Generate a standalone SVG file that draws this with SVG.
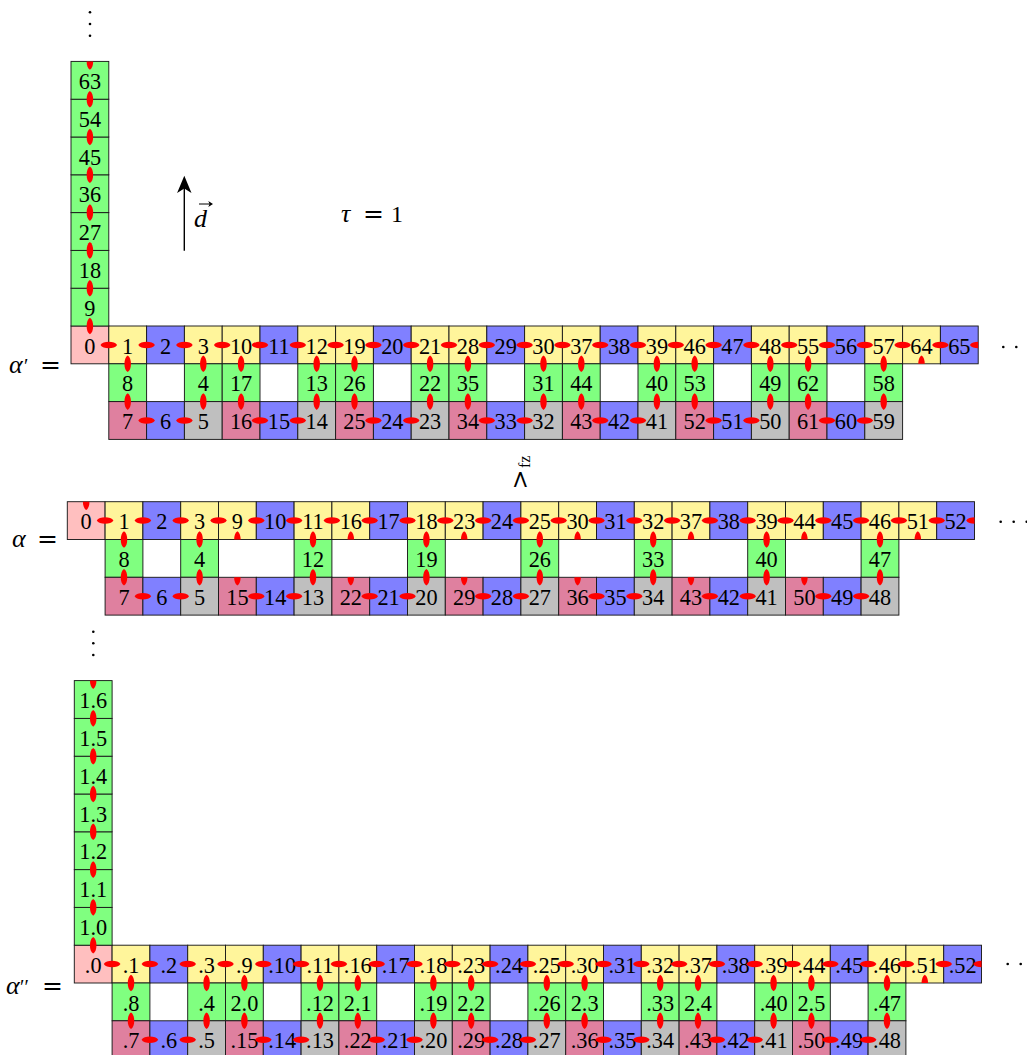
<svg xmlns="http://www.w3.org/2000/svg" width="1027" height="1055" viewBox="0 0 1027 1055" font-family="'Liberation Serif', 'Times New Roman', serif">
<style>
rect.c{width:20px;height:20px;stroke:#1a1a1a;stroke-width:0.5}
.pk{fill:#ffbfbf}.ye{fill:#fff59b}.bl{fill:#8080ff}.gr{fill:#80ff80}.mv{fill:#df809f}.gy{fill:#bfbfbf}
.n text{font-size:11.8px;text-anchor:middle;fill:#000}
.k use{fill:#ff0000}
.lbl{font-size:26px;fill:#000}
.eq{font-family:'DejaVu Serif',serif;font-size:25px}
.gt{font-family:'DejaVu Serif',serif;font-size:24px;fill:#000}
.sub{font-size:16px;fill:#000}
</style>
<defs>
<path id="lh" d="M-4.4,0 C-3.2,-2.3 3.2,-2.3 4.4,0 C3.2,2.3 -3.2,2.3 -4.4,0Z"/>
<path id="lv" d="M0,-4.4 C-2.3,-3.2 -2.3,3.2 0,4.4 C2.3,3.2 2.3,-3.2 0,-4.4Z"/>
<path id="hu" d="M-1.725,0 C-1.725,-1.9 -1.15,-3.8 0,-4.4 C1.15,-3.8 1.725,-1.9 1.725,0Z"/>
<path id="hd" d="M-1.725,0 C-1.725,1.9 -1.15,3.8 0,4.4 C1.15,3.8 1.725,1.9 1.725,0Z"/>
<path id="hl" d="M0,-1.725 C-1.9,-1.725 -3.8,-1.15 -4.4,0 C-3.8,1.15 -1.9,1.725 0,1.725Z"/>
</defs>

<g id="dots" fill="#000">
<circle cx="90" cy="12.3" r="1.3"/><circle cx="90" cy="24" r="1.3"/><circle cx="90" cy="35.7" r="1.3"/>
<circle cx="93.3" cy="631.7" r="1.3"/><circle cx="93.3" cy="643.3" r="1.3"/><circle cx="93.3" cy="655" r="1.3"/>
<circle cx="1003.3" cy="347" r="1.3"/><circle cx="1016.3" cy="347" r="1.3"/><circle cx="1029" cy="347" r="1.3"/>
<circle cx="1000.7" cy="521.7" r="1.3"/><circle cx="1013.7" cy="521.7" r="1.3"/><circle cx="1026.7" cy="521.7" r="1.3"/>
<circle cx="1007.7" cy="964" r="1.3"/><circle cx="1020.7" cy="964" r="1.3"/>
</g>
<g id="direction">
<line x1="184.3" y1="250.7" x2="184.3" y2="186" stroke="#000" stroke-width="1.4"/>
<path d="M184.3,175.7 L191.5,193 L184.3,188.5 L177.1,193Z" fill="#000"/>
<text class="lbl" x="194" y="226.5" font-style="italic">d</text>
<path d="M199,204 H210" stroke="#000" stroke-width="1"/>
<path d="M213,204 L208.3,201 L209.6,204 L208.3,207Z" fill="#000"/>
</g>
<text class="lbl" y="222"><tspan x="341" font-style="italic">τ</tspan><tspan class="eq" x="363">=</tspan><tspan x="391" font-size="24">1</tspan></text>
<text class="lbl" y="373"><tspan x="9" font-style="italic">α</tspan><tspan x="24" font-size="20">′</tspan><tspan class="eq" x="40">=</tspan></text>
<text class="lbl" y="547"><tspan x="12" font-style="italic">α</tspan><tspan class="eq" x="37">=</tspan></text>
<text class="lbl" y="994"><tspan x="6" font-style="italic">α</tspan><tspan x="20" font-size="20">′′</tspan><tspan class="eq" x="42">=</tspan></text>
<g id="order-relation">
<text class="gt" transform="translate(528,489.5) rotate(-90)">&gt;</text>
<text class="sub" transform="translate(530,468) rotate(-90)">fz</text>
</g>

<g transform="translate(71,326) scale(1.89)">
<g id="A-nodes" class="n">
<g id="A0" transform="translate(0,0)"><rect class="c pk"/><text x="10" y="14.6">0</text></g>
<g id="A1" transform="translate(20,0)"><rect class="c ye"/><text x="10" y="14.6">1</text></g>
<g id="A2" transform="translate(40,0)"><rect class="c bl"/><text x="10" y="14.6">2</text></g>
<g id="A3" transform="translate(60,0)"><rect class="c ye"/><text x="10" y="14.6">3</text></g>
<g id="A10" transform="translate(80,0)"><rect class="c ye"/><text x="10" y="14.6">10</text></g>
<g id="A11" transform="translate(100,0)"><rect class="c bl"/><text x="10" y="14.6">11</text></g>
<g id="A12" transform="translate(120,0)"><rect class="c ye"/><text x="10" y="14.6">12</text></g>
<g id="A19" transform="translate(140,0)"><rect class="c ye"/><text x="10" y="14.6">19</text></g>
<g id="A20" transform="translate(160,0)"><rect class="c bl"/><text x="10" y="14.6">20</text></g>
<g id="A21" transform="translate(180,0)"><rect class="c ye"/><text x="10" y="14.6">21</text></g>
<g id="A28" transform="translate(200,0)"><rect class="c ye"/><text x="10" y="14.6">28</text></g>
<g id="A29" transform="translate(220,0)"><rect class="c bl"/><text x="10" y="14.6">29</text></g>
<g id="A30" transform="translate(240,0)"><rect class="c ye"/><text x="10" y="14.6">30</text></g>
<g id="A37" transform="translate(260,0)"><rect class="c ye"/><text x="10" y="14.6">37</text></g>
<g id="A38" transform="translate(280,0)"><rect class="c bl"/><text x="10" y="14.6">38</text></g>
<g id="A39" transform="translate(300,0)"><rect class="c ye"/><text x="10" y="14.6">39</text></g>
<g id="A46" transform="translate(320,0)"><rect class="c ye"/><text x="10" y="14.6">46</text></g>
<g id="A47" transform="translate(340,0)"><rect class="c bl"/><text x="10" y="14.6">47</text></g>
<g id="A48" transform="translate(360,0)"><rect class="c ye"/><text x="10" y="14.6">48</text></g>
<g id="A55" transform="translate(380,0)"><rect class="c ye"/><text x="10" y="14.6">55</text></g>
<g id="A56" transform="translate(400,0)"><rect class="c bl"/><text x="10" y="14.6">56</text></g>
<g id="A57" transform="translate(420,0)"><rect class="c ye"/><text x="10" y="14.6">57</text></g>
<g id="A64" transform="translate(440,0)"><rect class="c ye"/><text x="10" y="14.6">64</text></g>
<g id="A65" transform="translate(460,0)"><rect class="c bl"/><text x="10" y="14.6">65</text></g>
<g id="A9" transform="translate(0,-20)"><rect class="c gr"/><text x="10" y="14.6">9</text></g>
<g id="A18" transform="translate(0,-40)"><rect class="c gr"/><text x="10" y="14.6">18</text></g>
<g id="A27" transform="translate(0,-60)"><rect class="c gr"/><text x="10" y="14.6">27</text></g>
<g id="A36" transform="translate(0,-80)"><rect class="c gr"/><text x="10" y="14.6">36</text></g>
<g id="A45" transform="translate(0,-100)"><rect class="c gr"/><text x="10" y="14.6">45</text></g>
<g id="A54" transform="translate(0,-120)"><rect class="c gr"/><text x="10" y="14.6">54</text></g>
<g id="A63" transform="translate(0,-140)"><rect class="c gr"/><text x="10" y="14.6">63</text></g>
<g id="A8" transform="translate(20,20)"><rect class="c gr"/><text x="10" y="14.6">8</text></g>
<g id="A4" transform="translate(60,20)"><rect class="c gr"/><text x="10" y="14.6">4</text></g>
<g id="A17" transform="translate(80,20)"><rect class="c gr"/><text x="10" y="14.6">17</text></g>
<g id="A13" transform="translate(120,20)"><rect class="c gr"/><text x="10" y="14.6">13</text></g>
<g id="A26" transform="translate(140,20)"><rect class="c gr"/><text x="10" y="14.6">26</text></g>
<g id="A22" transform="translate(180,20)"><rect class="c gr"/><text x="10" y="14.6">22</text></g>
<g id="A35" transform="translate(200,20)"><rect class="c gr"/><text x="10" y="14.6">35</text></g>
<g id="A31" transform="translate(240,20)"><rect class="c gr"/><text x="10" y="14.6">31</text></g>
<g id="A44" transform="translate(260,20)"><rect class="c gr"/><text x="10" y="14.6">44</text></g>
<g id="A40" transform="translate(300,20)"><rect class="c gr"/><text x="10" y="14.6">40</text></g>
<g id="A53" transform="translate(320,20)"><rect class="c gr"/><text x="10" y="14.6">53</text></g>
<g id="A49" transform="translate(360,20)"><rect class="c gr"/><text x="10" y="14.6">49</text></g>
<g id="A62" transform="translate(380,20)"><rect class="c gr"/><text x="10" y="14.6">62</text></g>
<g id="A58" transform="translate(420,20)"><rect class="c gr"/><text x="10" y="14.6">58</text></g>
<g id="A7" transform="translate(20,40)"><rect class="c mv"/><text x="10" y="14.6">7</text></g>
<g id="A6" transform="translate(40,40)"><rect class="c bl"/><text x="10" y="14.6">6</text></g>
<g id="A5" transform="translate(60,40)"><rect class="c gy"/><text x="10" y="14.6">5</text></g>
<g id="A16" transform="translate(80,40)"><rect class="c mv"/><text x="10" y="14.6">16</text></g>
<g id="A15" transform="translate(100,40)"><rect class="c bl"/><text x="10" y="14.6">15</text></g>
<g id="A14" transform="translate(120,40)"><rect class="c gy"/><text x="10" y="14.6">14</text></g>
<g id="A25" transform="translate(140,40)"><rect class="c mv"/><text x="10" y="14.6">25</text></g>
<g id="A24" transform="translate(160,40)"><rect class="c bl"/><text x="10" y="14.6">24</text></g>
<g id="A23" transform="translate(180,40)"><rect class="c gy"/><text x="10" y="14.6">23</text></g>
<g id="A34" transform="translate(200,40)"><rect class="c mv"/><text x="10" y="14.6">34</text></g>
<g id="A33" transform="translate(220,40)"><rect class="c bl"/><text x="10" y="14.6">33</text></g>
<g id="A32" transform="translate(240,40)"><rect class="c gy"/><text x="10" y="14.6">32</text></g>
<g id="A43" transform="translate(260,40)"><rect class="c mv"/><text x="10" y="14.6">43</text></g>
<g id="A42" transform="translate(280,40)"><rect class="c bl"/><text x="10" y="14.6">42</text></g>
<g id="A41" transform="translate(300,40)"><rect class="c gy"/><text x="10" y="14.6">41</text></g>
<g id="A52" transform="translate(320,40)"><rect class="c mv"/><text x="10" y="14.6">52</text></g>
<g id="A51" transform="translate(340,40)"><rect class="c bl"/><text x="10" y="14.6">51</text></g>
<g id="A50" transform="translate(360,40)"><rect class="c gy"/><text x="10" y="14.6">50</text></g>
<g id="A61" transform="translate(380,40)"><rect class="c mv"/><text x="10" y="14.6">61</text></g>
<g id="A60" transform="translate(400,40)"><rect class="c bl"/><text x="10" y="14.6">60</text></g>
<g id="A59" transform="translate(420,40)"><rect class="c gy"/><text x="10" y="14.6">59</text></g>
</g>
<g id="A-connectors" class="k">
<use href="#lh" x="20" y="10"/><use href="#lh" x="40" y="10"/><use href="#lh" x="60" y="10"/><use href="#lh" x="80" y="10"/><use href="#lh" x="100" y="10"/><use href="#lh" x="120" y="10"/><use href="#lh" x="140" y="10"/><use href="#lh" x="160" y="10"/><use href="#lh" x="180" y="10"/><use href="#lh" x="200" y="10"/><use href="#lh" x="220" y="10"/><use href="#lh" x="240" y="10"/><use href="#lh" x="260" y="10"/><use href="#lh" x="280" y="10"/><use href="#lh" x="300" y="10"/><use href="#lh" x="320" y="10"/><use href="#lh" x="340" y="10"/><use href="#lh" x="360" y="10"/><use href="#lh" x="380" y="10"/><use href="#lh" x="400" y="10"/><use href="#lh" x="420" y="10"/><use href="#lh" x="440" y="10"/><use href="#lh" x="460" y="10"/>
<use href="#hl" x="480" y="10"/>
<use href="#lv" x="10" y="0"/><use href="#lv" x="10" y="-20"/><use href="#lv" x="10" y="-40"/><use href="#lv" x="10" y="-60"/><use href="#lv" x="10" y="-80"/><use href="#lv" x="10" y="-100"/><use href="#lv" x="10" y="-120"/><use href="#hd" x="10" y="-140"/>
<use href="#lv" x="30" y="20"/><use href="#lv" x="30" y="40"/><use href="#lv" x="70" y="20"/><use href="#lv" x="70" y="40"/><use href="#lv" x="90" y="20"/><use href="#lv" x="90" y="40"/><use href="#lv" x="130" y="20"/><use href="#lv" x="130" y="40"/><use href="#lv" x="150" y="20"/><use href="#lv" x="150" y="40"/><use href="#lv" x="190" y="20"/><use href="#lv" x="190" y="40"/><use href="#lv" x="210" y="20"/><use href="#lv" x="210" y="40"/><use href="#lv" x="250" y="20"/><use href="#lv" x="250" y="40"/><use href="#lv" x="270" y="20"/><use href="#lv" x="270" y="40"/><use href="#lv" x="310" y="20"/><use href="#lv" x="310" y="40"/><use href="#lv" x="330" y="20"/><use href="#lv" x="330" y="40"/><use href="#lv" x="370" y="20"/><use href="#lv" x="370" y="40"/><use href="#lv" x="390" y="20"/><use href="#lv" x="390" y="40"/><use href="#lv" x="430" y="20"/><use href="#lv" x="430" y="40"/>
<use href="#hu" x="450" y="20"/>
<use href="#lh" x="40" y="50"/><use href="#lh" x="60" y="50"/><use href="#lh" x="100" y="50"/><use href="#lh" x="120" y="50"/><use href="#lh" x="160" y="50"/><use href="#lh" x="180" y="50"/><use href="#lh" x="220" y="50"/><use href="#lh" x="240" y="50"/><use href="#lh" x="280" y="50"/><use href="#lh" x="300" y="50"/><use href="#lh" x="340" y="50"/><use href="#lh" x="360" y="50"/><use href="#lh" x="400" y="50"/><use href="#lh" x="420" y="50"/>
</g>
</g>

<g transform="translate(67.3,501.7) scale(1.89)">
<g id="B-nodes" class="n">
<g id="B0" transform="translate(0,0)"><rect class="c pk"/><text x="10" y="14.6">0</text></g>
<g id="B1" transform="translate(20,0)"><rect class="c ye"/><text x="10" y="14.6">1</text></g>
<g id="B2" transform="translate(40,0)"><rect class="c bl"/><text x="10" y="14.6">2</text></g>
<g id="B3" transform="translate(60,0)"><rect class="c ye"/><text x="10" y="14.6">3</text></g>
<g id="B9" transform="translate(80,0)"><rect class="c ye"/><text x="10" y="14.6">9</text></g>
<g id="B10" transform="translate(100,0)"><rect class="c bl"/><text x="10" y="14.6">10</text></g>
<g id="B11" transform="translate(120,0)"><rect class="c ye"/><text x="10" y="14.6">11</text></g>
<g id="B16" transform="translate(140,0)"><rect class="c ye"/><text x="10" y="14.6">16</text></g>
<g id="B17" transform="translate(160,0)"><rect class="c bl"/><text x="10" y="14.6">17</text></g>
<g id="B18" transform="translate(180,0)"><rect class="c ye"/><text x="10" y="14.6">18</text></g>
<g id="B23" transform="translate(200,0)"><rect class="c ye"/><text x="10" y="14.6">23</text></g>
<g id="B24" transform="translate(220,0)"><rect class="c bl"/><text x="10" y="14.6">24</text></g>
<g id="B25" transform="translate(240,0)"><rect class="c ye"/><text x="10" y="14.6">25</text></g>
<g id="B30" transform="translate(260,0)"><rect class="c ye"/><text x="10" y="14.6">30</text></g>
<g id="B31" transform="translate(280,0)"><rect class="c bl"/><text x="10" y="14.6">31</text></g>
<g id="B32" transform="translate(300,0)"><rect class="c ye"/><text x="10" y="14.6">32</text></g>
<g id="B37" transform="translate(320,0)"><rect class="c ye"/><text x="10" y="14.6">37</text></g>
<g id="B38" transform="translate(340,0)"><rect class="c bl"/><text x="10" y="14.6">38</text></g>
<g id="B39" transform="translate(360,0)"><rect class="c ye"/><text x="10" y="14.6">39</text></g>
<g id="B44" transform="translate(380,0)"><rect class="c ye"/><text x="10" y="14.6">44</text></g>
<g id="B45" transform="translate(400,0)"><rect class="c bl"/><text x="10" y="14.6">45</text></g>
<g id="B46" transform="translate(420,0)"><rect class="c ye"/><text x="10" y="14.6">46</text></g>
<g id="B51" transform="translate(440,0)"><rect class="c ye"/><text x="10" y="14.6">51</text></g>
<g id="B52" transform="translate(460,0)"><rect class="c bl"/><text x="10" y="14.6">52</text></g>
<g id="B8" transform="translate(20,20)"><rect class="c gr"/><text x="10" y="14.6">8</text></g>
<g id="B4" transform="translate(60,20)"><rect class="c gr"/><text x="10" y="14.6">4</text></g>
<g id="B12" transform="translate(120,20)"><rect class="c gr"/><text x="10" y="14.6">12</text></g>
<g id="B19" transform="translate(180,20)"><rect class="c gr"/><text x="10" y="14.6">19</text></g>
<g id="B26" transform="translate(240,20)"><rect class="c gr"/><text x="10" y="14.6">26</text></g>
<g id="B33" transform="translate(300,20)"><rect class="c gr"/><text x="10" y="14.6">33</text></g>
<g id="B40" transform="translate(360,20)"><rect class="c gr"/><text x="10" y="14.6">40</text></g>
<g id="B47" transform="translate(420,20)"><rect class="c gr"/><text x="10" y="14.6">47</text></g>
<g id="B7" transform="translate(20,40)"><rect class="c mv"/><text x="10" y="14.6">7</text></g>
<g id="B6" transform="translate(40,40)"><rect class="c bl"/><text x="10" y="14.6">6</text></g>
<g id="B5" transform="translate(60,40)"><rect class="c gy"/><text x="10" y="14.6">5</text></g>
<g id="B15" transform="translate(80,40)"><rect class="c mv"/><text x="10" y="14.6">15</text></g>
<g id="B14" transform="translate(100,40)"><rect class="c bl"/><text x="10" y="14.6">14</text></g>
<g id="B13" transform="translate(120,40)"><rect class="c gy"/><text x="10" y="14.6">13</text></g>
<g id="B22" transform="translate(140,40)"><rect class="c mv"/><text x="10" y="14.6">22</text></g>
<g id="B21" transform="translate(160,40)"><rect class="c bl"/><text x="10" y="14.6">21</text></g>
<g id="B20" transform="translate(180,40)"><rect class="c gy"/><text x="10" y="14.6">20</text></g>
<g id="B29" transform="translate(200,40)"><rect class="c mv"/><text x="10" y="14.6">29</text></g>
<g id="B28" transform="translate(220,40)"><rect class="c bl"/><text x="10" y="14.6">28</text></g>
<g id="B27" transform="translate(240,40)"><rect class="c gy"/><text x="10" y="14.6">27</text></g>
<g id="B36" transform="translate(260,40)"><rect class="c mv"/><text x="10" y="14.6">36</text></g>
<g id="B35" transform="translate(280,40)"><rect class="c bl"/><text x="10" y="14.6">35</text></g>
<g id="B34" transform="translate(300,40)"><rect class="c gy"/><text x="10" y="14.6">34</text></g>
<g id="B43" transform="translate(320,40)"><rect class="c mv"/><text x="10" y="14.6">43</text></g>
<g id="B42" transform="translate(340,40)"><rect class="c bl"/><text x="10" y="14.6">42</text></g>
<g id="B41" transform="translate(360,40)"><rect class="c gy"/><text x="10" y="14.6">41</text></g>
<g id="B50" transform="translate(380,40)"><rect class="c mv"/><text x="10" y="14.6">50</text></g>
<g id="B49" transform="translate(400,40)"><rect class="c bl"/><text x="10" y="14.6">49</text></g>
<g id="B48" transform="translate(420,40)"><rect class="c gy"/><text x="10" y="14.6">48</text></g>
</g>
<g id="B-connectors" class="k">
<use href="#lh" x="20" y="10"/><use href="#lh" x="40" y="10"/><use href="#lh" x="60" y="10"/><use href="#lh" x="80" y="10"/><use href="#lh" x="100" y="10"/><use href="#lh" x="120" y="10"/><use href="#lh" x="140" y="10"/><use href="#lh" x="160" y="10"/><use href="#lh" x="180" y="10"/><use href="#lh" x="200" y="10"/><use href="#lh" x="220" y="10"/><use href="#lh" x="240" y="10"/><use href="#lh" x="260" y="10"/><use href="#lh" x="280" y="10"/><use href="#lh" x="300" y="10"/><use href="#lh" x="320" y="10"/><use href="#lh" x="340" y="10"/><use href="#lh" x="360" y="10"/><use href="#lh" x="380" y="10"/><use href="#lh" x="400" y="10"/><use href="#lh" x="420" y="10"/><use href="#lh" x="440" y="10"/><use href="#lh" x="460" y="10"/>
<use href="#hl" x="480" y="10"/><use href="#hd" x="10" y="0"/>
<use href="#lv" x="30" y="20"/><use href="#lv" x="30" y="40"/><use href="#lv" x="70" y="20"/><use href="#lv" x="70" y="40"/><use href="#lv" x="130" y="20"/><use href="#lv" x="130" y="40"/><use href="#lv" x="190" y="20"/><use href="#lv" x="190" y="40"/><use href="#lv" x="250" y="20"/><use href="#lv" x="250" y="40"/><use href="#lv" x="310" y="20"/><use href="#lv" x="310" y="40"/><use href="#lv" x="370" y="20"/><use href="#lv" x="370" y="40"/><use href="#lv" x="430" y="20"/><use href="#lv" x="430" y="40"/>
<use href="#hu" x="90" y="20"/><use href="#hd" x="90" y="40"/><use href="#hu" x="150" y="20"/><use href="#hd" x="150" y="40"/><use href="#hu" x="210" y="20"/><use href="#hd" x="210" y="40"/><use href="#hu" x="270" y="20"/><use href="#hd" x="270" y="40"/><use href="#hu" x="330" y="20"/><use href="#hd" x="330" y="40"/><use href="#hu" x="390" y="20"/><use href="#hd" x="390" y="40"/><use href="#hu" x="450" y="20"/>
<use href="#lh" x="40" y="50"/><use href="#lh" x="60" y="50"/><use href="#lh" x="100" y="50"/><use href="#lh" x="120" y="50"/><use href="#lh" x="160" y="50"/><use href="#lh" x="180" y="50"/><use href="#lh" x="220" y="50"/><use href="#lh" x="240" y="50"/><use href="#lh" x="280" y="50"/><use href="#lh" x="300" y="50"/><use href="#lh" x="340" y="50"/><use href="#lh" x="360" y="50"/><use href="#lh" x="400" y="50"/><use href="#lh" x="420" y="50"/>
</g>
</g>

<g transform="translate(74.3,945.2) scale(1.89)">
<g id="C-nodes" class="n">
<g id="C-0" transform="translate(0,0)"><rect class="c pk"/><text x="10" y="14.6">.0</text></g>
<g id="C-1" transform="translate(20,0)"><rect class="c ye"/><text x="10" y="14.6">.1</text></g>
<g id="C-2" transform="translate(40,0)"><rect class="c bl"/><text x="10" y="14.6">.2</text></g>
<g id="C-3" transform="translate(60,0)"><rect class="c ye"/><text x="10" y="14.6">.3</text></g>
<g id="C-9" transform="translate(80,0)"><rect class="c ye"/><text x="10" y="14.6">.9</text></g>
<g id="C-10" transform="translate(100,0)"><rect class="c bl"/><text x="10" y="14.6">.10</text></g>
<g id="C-11" transform="translate(120,0)"><rect class="c ye"/><text x="10" y="14.6">.11</text></g>
<g id="C-16" transform="translate(140,0)"><rect class="c ye"/><text x="10" y="14.6">.16</text></g>
<g id="C-17" transform="translate(160,0)"><rect class="c bl"/><text x="10" y="14.6">.17</text></g>
<g id="C-18" transform="translate(180,0)"><rect class="c ye"/><text x="10" y="14.6">.18</text></g>
<g id="C-23" transform="translate(200,0)"><rect class="c ye"/><text x="10" y="14.6">.23</text></g>
<g id="C-24" transform="translate(220,0)"><rect class="c bl"/><text x="10" y="14.6">.24</text></g>
<g id="C-25" transform="translate(240,0)"><rect class="c ye"/><text x="10" y="14.6">.25</text></g>
<g id="C-30" transform="translate(260,0)"><rect class="c ye"/><text x="10" y="14.6">.30</text></g>
<g id="C-31" transform="translate(280,0)"><rect class="c bl"/><text x="10" y="14.6">.31</text></g>
<g id="C-32" transform="translate(300,0)"><rect class="c ye"/><text x="10" y="14.6">.32</text></g>
<g id="C-37" transform="translate(320,0)"><rect class="c ye"/><text x="10" y="14.6">.37</text></g>
<g id="C-38" transform="translate(340,0)"><rect class="c bl"/><text x="10" y="14.6">.38</text></g>
<g id="C-39" transform="translate(360,0)"><rect class="c ye"/><text x="10" y="14.6">.39</text></g>
<g id="C-44" transform="translate(380,0)"><rect class="c ye"/><text x="10" y="14.6">.44</text></g>
<g id="C-45" transform="translate(400,0)"><rect class="c bl"/><text x="10" y="14.6">.45</text></g>
<g id="C-46" transform="translate(420,0)"><rect class="c ye"/><text x="10" y="14.6">.46</text></g>
<g id="C-51" transform="translate(440,0)"><rect class="c ye"/><text x="10" y="14.6">.51</text></g>
<g id="C-52" transform="translate(460,0)"><rect class="c bl"/><text x="10" y="14.6">.52</text></g>
<g id="C1-0" transform="translate(0,-20)"><rect class="c gr"/><text x="10" y="14.6">1.0</text></g>
<g id="C1-1" transform="translate(0,-40)"><rect class="c gr"/><text x="10" y="14.6">1.1</text></g>
<g id="C1-2" transform="translate(0,-60)"><rect class="c gr"/><text x="10" y="14.6">1.2</text></g>
<g id="C1-3" transform="translate(0,-80)"><rect class="c gr"/><text x="10" y="14.6">1.3</text></g>
<g id="C1-4" transform="translate(0,-100)"><rect class="c gr"/><text x="10" y="14.6">1.4</text></g>
<g id="C1-5" transform="translate(0,-120)"><rect class="c gr"/><text x="10" y="14.6">1.5</text></g>
<g id="C1-6" transform="translate(0,-140)"><rect class="c gr"/><text x="10" y="14.6">1.6</text></g>
<g id="C-8" transform="translate(20,20)"><rect class="c gr"/><text x="10" y="14.6">.8</text></g>
<g id="C-4" transform="translate(60,20)"><rect class="c gr"/><text x="10" y="14.6">.4</text></g>
<g id="C2-0" transform="translate(80,20)"><rect class="c gr"/><text x="10" y="14.6">2.0</text></g>
<g id="C-12" transform="translate(120,20)"><rect class="c gr"/><text x="10" y="14.6">.12</text></g>
<g id="C2-1" transform="translate(140,20)"><rect class="c gr"/><text x="10" y="14.6">2.1</text></g>
<g id="C-19" transform="translate(180,20)"><rect class="c gr"/><text x="10" y="14.6">.19</text></g>
<g id="C2-2" transform="translate(200,20)"><rect class="c gr"/><text x="10" y="14.6">2.2</text></g>
<g id="C-26" transform="translate(240,20)"><rect class="c gr"/><text x="10" y="14.6">.26</text></g>
<g id="C2-3" transform="translate(260,20)"><rect class="c gr"/><text x="10" y="14.6">2.3</text></g>
<g id="C-33" transform="translate(300,20)"><rect class="c gr"/><text x="10" y="14.6">.33</text></g>
<g id="C2-4" transform="translate(320,20)"><rect class="c gr"/><text x="10" y="14.6">2.4</text></g>
<g id="C-40" transform="translate(360,20)"><rect class="c gr"/><text x="10" y="14.6">.40</text></g>
<g id="C2-5" transform="translate(380,20)"><rect class="c gr"/><text x="10" y="14.6">2.5</text></g>
<g id="C-47" transform="translate(420,20)"><rect class="c gr"/><text x="10" y="14.6">.47</text></g>
<g id="C-7" transform="translate(20,40)"><rect class="c mv"/><text x="10" y="14.6">.7</text></g>
<g id="C-6" transform="translate(40,40)"><rect class="c bl"/><text x="10" y="14.6">.6</text></g>
<g id="C-5" transform="translate(60,40)"><rect class="c gy"/><text x="10" y="14.6">.5</text></g>
<g id="C-15" transform="translate(80,40)"><rect class="c mv"/><text x="10" y="14.6">.15</text></g>
<g id="C-14" transform="translate(100,40)"><rect class="c bl"/><text x="10" y="14.6">.14</text></g>
<g id="C-13" transform="translate(120,40)"><rect class="c gy"/><text x="10" y="14.6">.13</text></g>
<g id="C-22" transform="translate(140,40)"><rect class="c mv"/><text x="10" y="14.6">.22</text></g>
<g id="C-21" transform="translate(160,40)"><rect class="c bl"/><text x="10" y="14.6">.21</text></g>
<g id="C-20" transform="translate(180,40)"><rect class="c gy"/><text x="10" y="14.6">.20</text></g>
<g id="C-29" transform="translate(200,40)"><rect class="c mv"/><text x="10" y="14.6">.29</text></g>
<g id="C-28" transform="translate(220,40)"><rect class="c bl"/><text x="10" y="14.6">.28</text></g>
<g id="C-27" transform="translate(240,40)"><rect class="c gy"/><text x="10" y="14.6">.27</text></g>
<g id="C-36" transform="translate(260,40)"><rect class="c mv"/><text x="10" y="14.6">.36</text></g>
<g id="C-35" transform="translate(280,40)"><rect class="c bl"/><text x="10" y="14.6">.35</text></g>
<g id="C-34" transform="translate(300,40)"><rect class="c gy"/><text x="10" y="14.6">.34</text></g>
<g id="C-43" transform="translate(320,40)"><rect class="c mv"/><text x="10" y="14.6">.43</text></g>
<g id="C-42" transform="translate(340,40)"><rect class="c bl"/><text x="10" y="14.6">.42</text></g>
<g id="C-41" transform="translate(360,40)"><rect class="c gy"/><text x="10" y="14.6">.41</text></g>
<g id="C-50" transform="translate(380,40)"><rect class="c mv"/><text x="10" y="14.6">.50</text></g>
<g id="C-49" transform="translate(400,40)"><rect class="c bl"/><text x="10" y="14.6">.49</text></g>
<g id="C-48" transform="translate(420,40)"><rect class="c gy"/><text x="10" y="14.6">.48</text></g>
</g>
<g id="C-connectors" class="k">
<use href="#lh" x="20" y="10"/><use href="#lh" x="40" y="10"/><use href="#lh" x="60" y="10"/><use href="#lh" x="80" y="10"/><use href="#lh" x="100" y="10"/><use href="#lh" x="120" y="10"/><use href="#lh" x="140" y="10"/><use href="#lh" x="160" y="10"/><use href="#lh" x="180" y="10"/><use href="#lh" x="200" y="10"/><use href="#lh" x="220" y="10"/><use href="#lh" x="240" y="10"/><use href="#lh" x="260" y="10"/><use href="#lh" x="280" y="10"/><use href="#lh" x="300" y="10"/><use href="#lh" x="320" y="10"/><use href="#lh" x="340" y="10"/><use href="#lh" x="360" y="10"/><use href="#lh" x="380" y="10"/><use href="#lh" x="400" y="10"/><use href="#lh" x="420" y="10"/><use href="#lh" x="440" y="10"/><use href="#lh" x="460" y="10"/>
<use href="#hl" x="480" y="10"/>
<use href="#lv" x="10" y="0"/><use href="#lv" x="10" y="-20"/><use href="#lv" x="10" y="-40"/><use href="#lv" x="10" y="-60"/><use href="#lv" x="10" y="-80"/><use href="#lv" x="10" y="-100"/><use href="#lv" x="10" y="-120"/><use href="#hd" x="10" y="-140"/>
<use href="#lv" x="30" y="20"/><use href="#lv" x="30" y="40"/><use href="#lv" x="70" y="20"/><use href="#lv" x="70" y="40"/><use href="#lv" x="90" y="20"/><use href="#lv" x="90" y="40"/><use href="#lv" x="130" y="20"/><use href="#lv" x="130" y="40"/><use href="#lv" x="150" y="20"/><use href="#lv" x="150" y="40"/><use href="#lv" x="190" y="20"/><use href="#lv" x="190" y="40"/><use href="#lv" x="210" y="20"/><use href="#lv" x="210" y="40"/><use href="#lv" x="250" y="20"/><use href="#lv" x="250" y="40"/><use href="#lv" x="270" y="20"/><use href="#lv" x="270" y="40"/><use href="#lv" x="310" y="20"/><use href="#lv" x="310" y="40"/><use href="#lv" x="330" y="20"/><use href="#lv" x="330" y="40"/><use href="#lv" x="370" y="20"/><use href="#lv" x="370" y="40"/><use href="#lv" x="390" y="20"/><use href="#lv" x="390" y="40"/><use href="#lv" x="430" y="20"/><use href="#lv" x="430" y="40"/>
<use href="#hu" x="450" y="20"/>
<use href="#lh" x="40" y="50"/><use href="#lh" x="60" y="50"/><use href="#lh" x="100" y="50"/><use href="#lh" x="120" y="50"/><use href="#lh" x="160" y="50"/><use href="#lh" x="180" y="50"/><use href="#lh" x="220" y="50"/><use href="#lh" x="240" y="50"/><use href="#lh" x="280" y="50"/><use href="#lh" x="300" y="50"/><use href="#lh" x="340" y="50"/><use href="#lh" x="360" y="50"/><use href="#lh" x="400" y="50"/><use href="#lh" x="420" y="50"/>
</g>
</g>
</svg>
